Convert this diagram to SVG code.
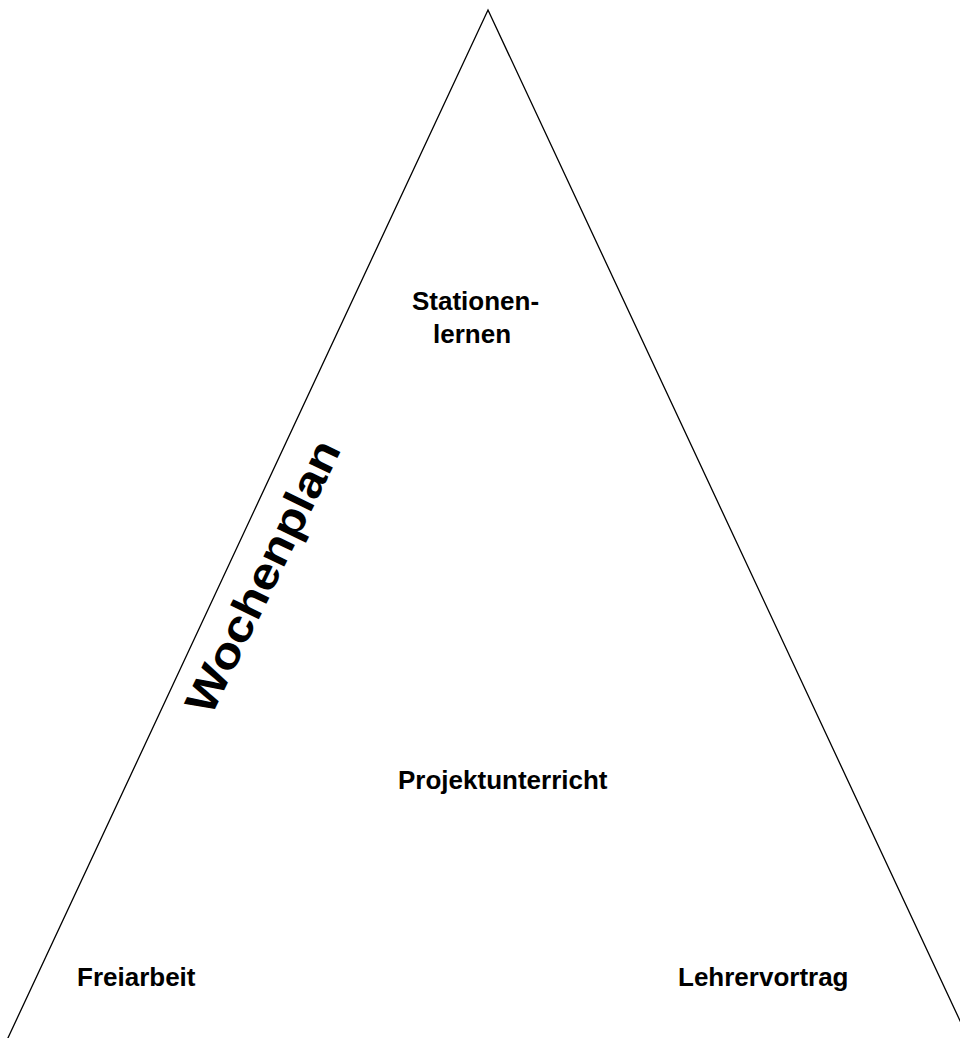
<svg xmlns="http://www.w3.org/2000/svg" width="960" height="1038" viewBox="0 0 960 1038">
<style>
.edge{fill:none;stroke:#000;stroke-width:1.3}
.lbl{font-family:"Liberation Sans",Arial,sans-serif;font-weight:bold;font-size:26px;fill:#000}
.big{font-family:"Liberation Sans",Arial,sans-serif;font-weight:bold;font-size:44px;fill:#000}
</style>
<rect width="960" height="1038" fill="#fff"/>
<g id="connectors">
<path class="edge" d="M7,1040 L488,10 L969,1040"/>
</g>
<g id="stationenlernen"><text class="lbl" x="412" y="310">Stationen-</text><text class="lbl" x="433" y="343">lernen</text></g>
<g id="projektunterricht"><text class="lbl" x="398" y="789">Projektunterricht</text></g>
<g id="freiarbeit"><text class="lbl" x="77" y="986">Freiarbeit</text></g>
<g id="lehrervortrag"><text class="lbl" x="678" y="986">Lehrervortrag</text></g>
<g id="wochenplan"><text class="big" transform="translate(211,717) rotate(-64)" textLength="298" lengthAdjust="spacingAndGlyphs">Wochenplan</text></g>
</svg>
